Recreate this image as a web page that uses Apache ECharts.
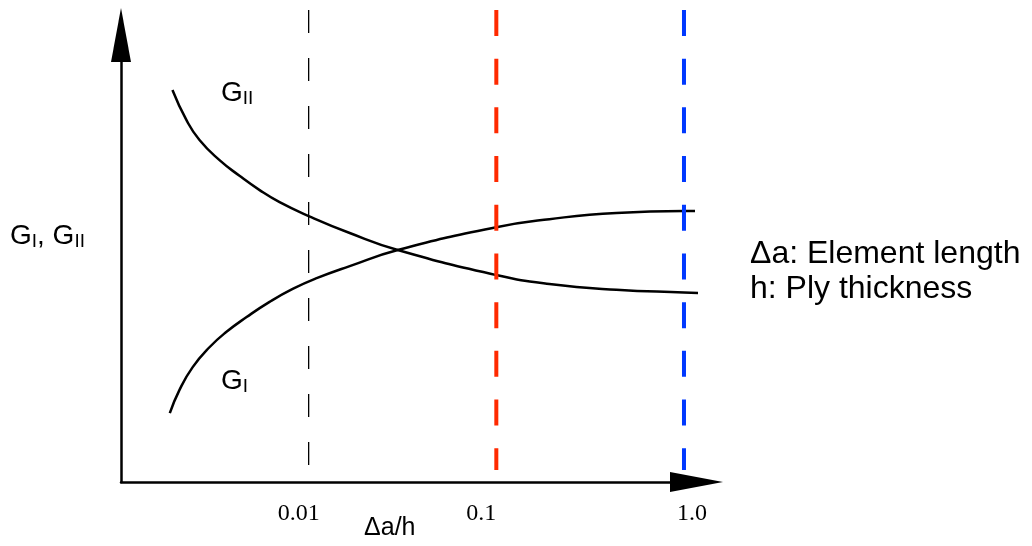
<!DOCTYPE html>
<html>
<head>
<meta charset="utf-8">
<style>
    html, body { margin: 0; padding: 0; background: #fff; }
    #chart { width: 1032px; height: 546px; }
</style>
<script src="https://cdn.jsdelivr.net/npm/echarts@6/dist/echarts.min.js"></script>
</head>
<body>
<div id="chart"></div>
<script>
    // Δa/h values (log axis) and relative G values
    var g2X = [0.00188, 0.00223, 0.00262, 0.00335, 0.00428, 0.00548, 0.0070, 0.01, 0.01655, 0.02984, 0.1, 0.1917, 0.4365, 1.0, 1.188];
    var g2Y = [87.7, 81.0, 76.5, 72.0, 68.5, 65.3, 62.6, 59.5, 55.7, 51.9, 46.3, 44.3, 43.0, 42.4, 42.3];
    var g1X = [0.00182, 0.00205, 0.00241, 0.00297, 0.00365, 0.00467, 0.00619, 0.00822, 0.01103, 0.01655, 0.02984, 0.1, 0.1917, 0.4365, 1.0, 1.145];
    var g1Y = [15.4, 20.6, 25.7, 30.2, 33.6, 36.9, 40.3, 43.2, 45.6, 48.3, 51.9, 57.0, 58.8, 60.2, 60.6, 60.6];

    // vertical reference lines (element size / ply thickness)
    var guideX = [0.01, 0.1, 1.0];
    var guideTop = 105.6;
    var guideBottom = [3.4, 2.7, 2.7];

    var tickValues = [0.01, 0.1, 1.0];
    var tickLabels = ['0.01', '0.1', '1.0'];

    var legendLines = ['Δa: Element length', 'h: Ply thickness'];

    function pairs(xs, ys) {
        return xs.map(function (x, i) { return [x, ys[i]]; });
    }

    var sans = 'Liberation Sans, Arial, sans-serif';
    var serif = 'Liberation Serif, Times New Roman, serif';
    var subRich = {
        g: { fontSize: 28, lineHeight: 30, fontFamily: sans, fill: '#000' },
        s: { fontSize: 19, lineHeight: 16, fontFamily: sans, fill: '#000', verticalAlign: 'bottom' },
        c: { fontSize: 28, lineHeight: 30, fontFamily: sans, fill: '#000' }
    };

    var guideStyles = [
        { color: '#000000', width: 1.3, type: [23, 25] },
        { color: '#ff2a00', width: 4, type: [26, 22.7] },
        { color: '#0038ff', width: 4, type: [26, 22.7] }
    ];

    var myChart = echarts.init(document.getElementById('chart'));

    var series = [
        {
            name: 'GII', type: 'line', data: pairs(g2X, g2Y), smooth: true,
            showSymbol: false, symbol: 'none', clip: false, silent: true,
            lineStyle: { color: '#000', width: 2.5 }
        },
        {
            name: 'GI', type: 'line', data: pairs(g1X, g1Y), smooth: true,
            showSymbol: false, symbol: 'none', clip: false, silent: true,
            lineStyle: { color: '#000', width: 2.5 }
        }
    ];
    guideX.forEach(function (x, i) {
        series.push({
            type: 'line', data: [[x, guideTop], [x, guideBottom[i]]],
            symbol: 'none', clip: false, silent: true, z: 3,
            lineStyle: guideStyles[i]
        });
    });

    var option = {
        backgroundColor: '#fff',
        animation: false,
        grid: { left: 121, right: 335.5, top: 35, bottom: 64, containLabel: false, outerBoundsMode: 'none' },
        xAxis: {
            type: 'log',
            logBase: 10,
            min: 0.001,
            max: 1.166,
            name: 'Δa/h',
            nameLocation: 'middle',
            nameGap: 34,
            nameMoveOverlap: false,
            nameTextStyle: { fontFamily: sans, fontSize: 25, color: '#000', padding: [0, 38, 0, 0] },
            axisLine: {
                lineStyle: { color: '#000', width: 2.5 },
                symbol: ['none', 'triangle'],
                symbolSize: [20, 53]
            },
            axisTick: { show: false },
            splitLine: { show: false },
            axisLabel: {
                margin: 20,
                fontFamily: serif,
                fontSize: 24,
                color: '#000',
                showMinLabel: true,
                showMaxLabel: true,
                formatter: function (v) {
                    var k = Math.log10(v);
                    for (var i = 0; i < tickValues.length; i++) {
                        if (Math.abs(Math.log10(tickValues[i]) - k) < 1e-6) {
                            return '{l' + i + '|' + tickLabels[i] + '}';
                        }
                    }
                    return '';
                },
                rich: {
                    l0: { fontFamily: serif, fontSize: 24, color: '#000', padding: [0, 20, 0, 0] },
                    l1: { fontFamily: serif, fontSize: 24, color: '#000', padding: [0, 30, 0, 0] },
                    l2: { fontFamily: serif, fontSize: 24, color: '#000', padding: [0, 0, 0, 16] }
                }
            }
        },
        yAxis: {
            type: 'value',
            min: 0,
            max: 100,
            axisLine: {
                lineStyle: { color: '#000', width: 2.5 },
                symbol: ['none', 'triangle'],
                symbolSize: [20, 54]
            },
            axisTick: { show: false },
            axisLabel: { show: false },
            splitLine: { show: false }
        },
        graphic: [
            {
                type: 'text', left: 221, top: 79, silent: true,
                style: { text: '{g|G}{s|II}', rich: subRich }
            },
            {
                type: 'text', left: 221, top: 367, silent: true,
                style: { text: '{g|G}{s|I}', rich: subRich }
            },
            {
                type: 'text', left: 10, top: 222, silent: true,
                style: { text: '{g|G}{s|I}{c|, G}{s|II}', rich: subRich }
            },
            {
                type: 'text', left: 750, top: 237, silent: true,
                style: {
                    text: legendLines.join('\n'),
                    fontFamily: sans, fontSize: 32, lineHeight: 35, fill: '#000'
                }
            }
        ],
        series: series
    };
    myChart.setOption(option);
    window.addEventListener('resize', function () {
        myChart.resize();
    });
</script>
</body>
</html>
